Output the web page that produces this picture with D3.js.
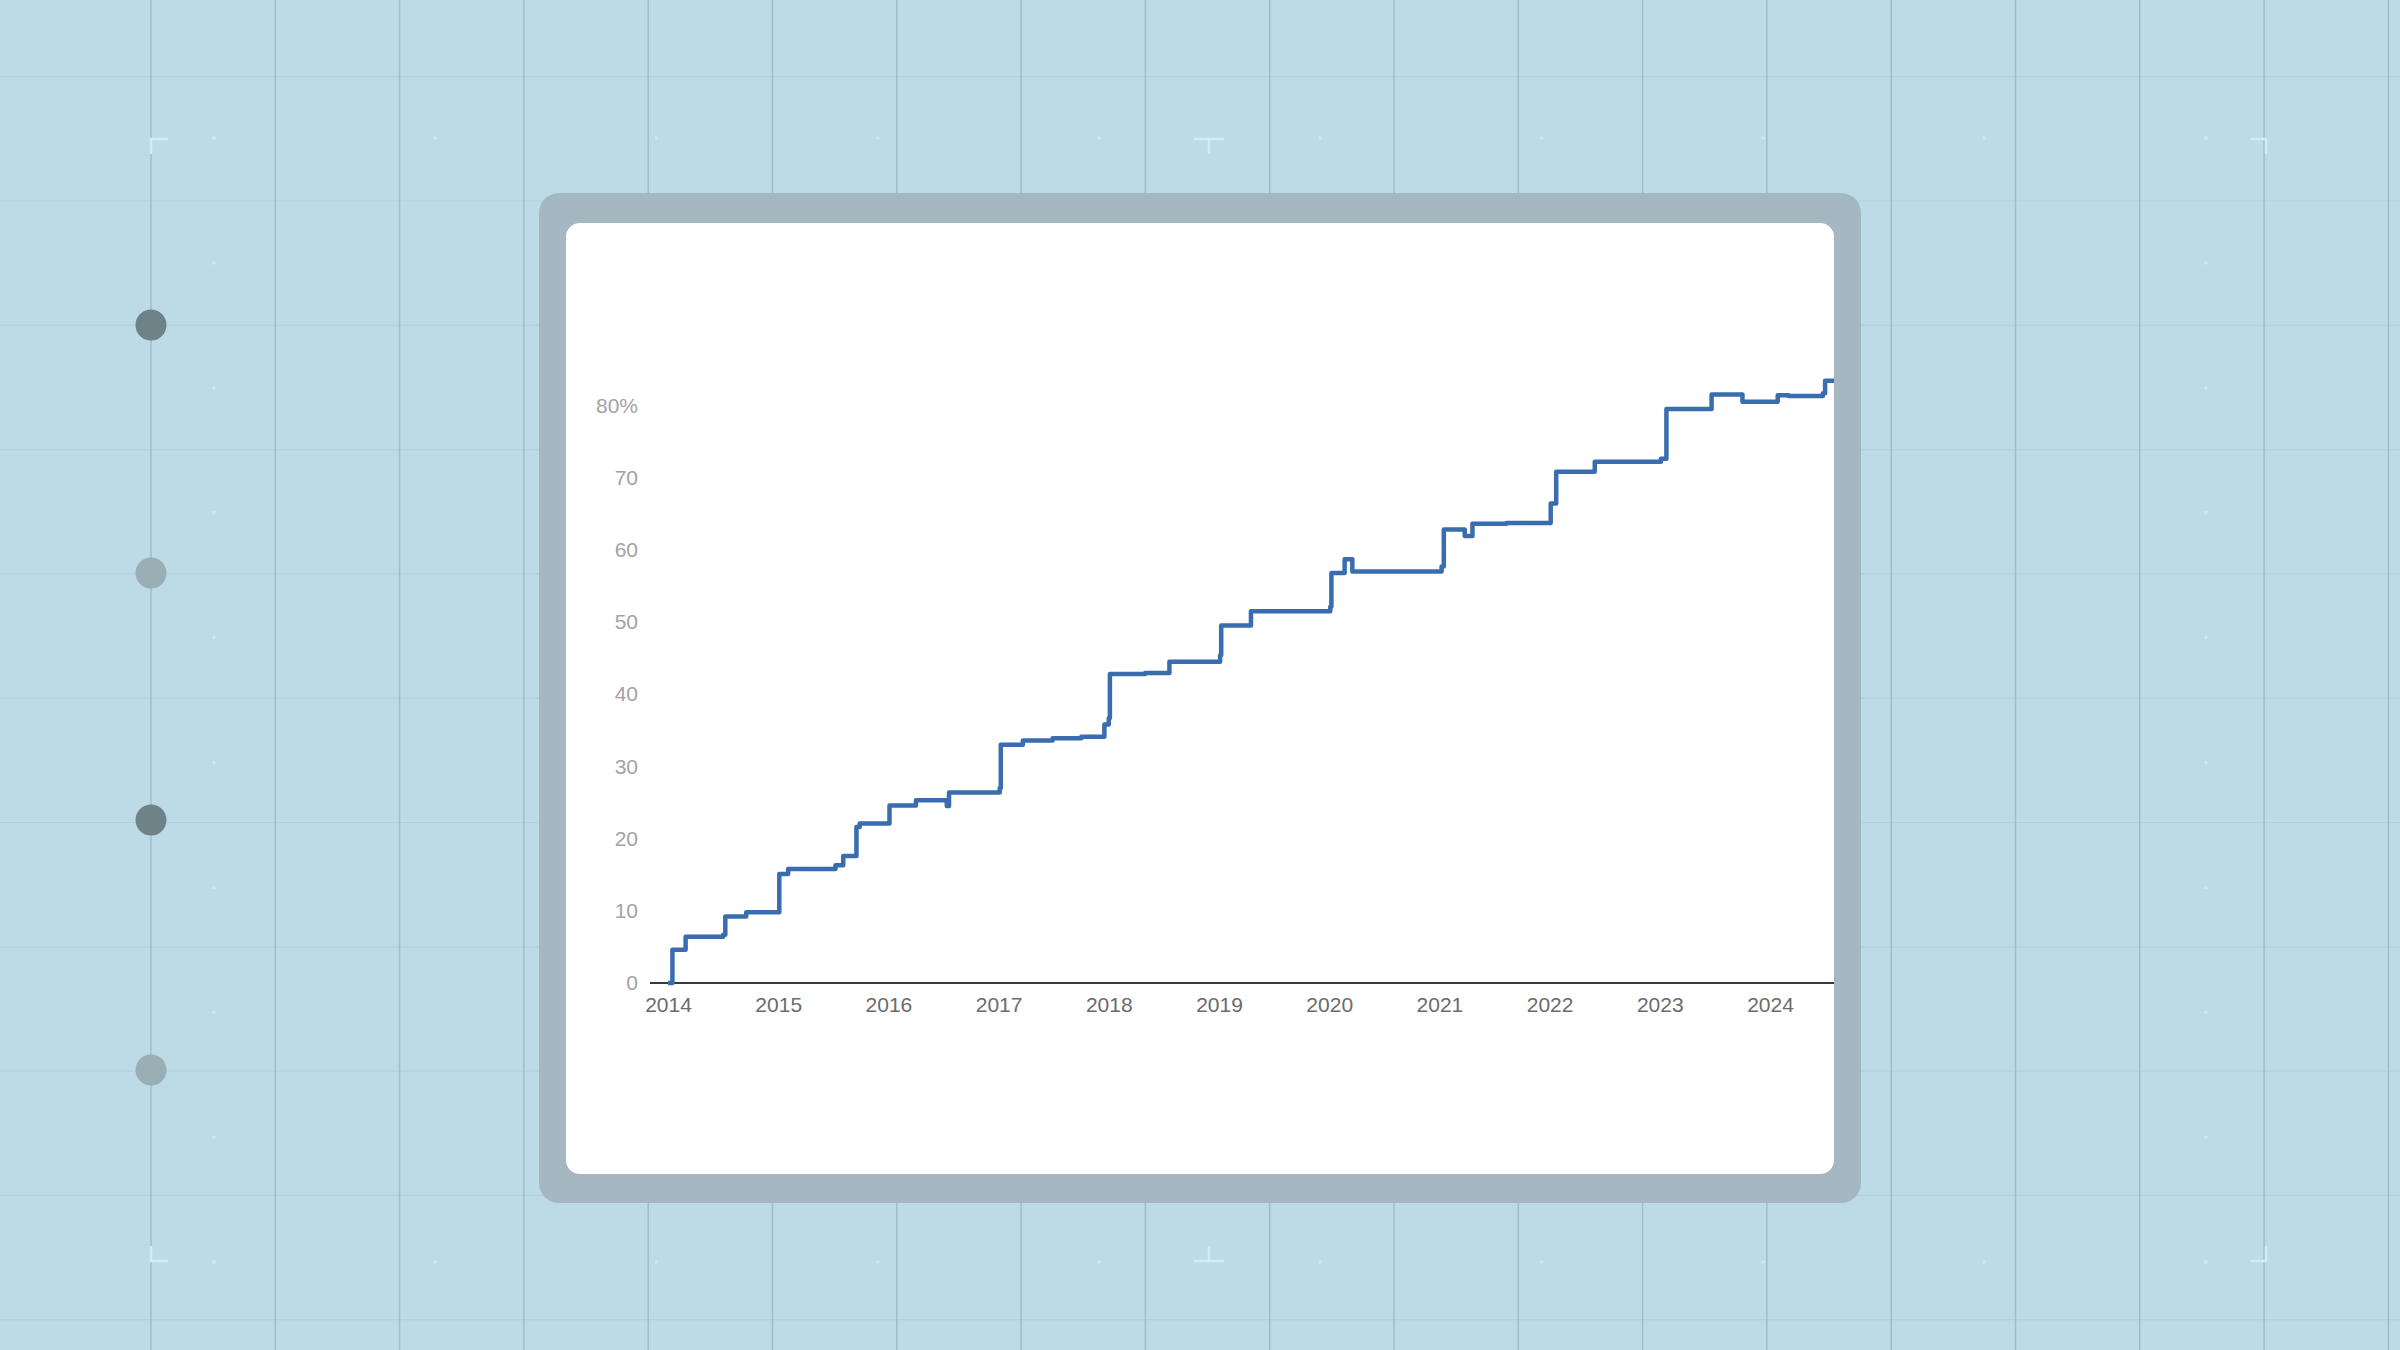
<!DOCTYPE html>
<html>
<head>
<meta charset="utf-8">
<script src="https://cdn.jsdelivr.net/npm/d3@7"></script>
<style>
  body { margin: 0; background: #bddbe6; }
  svg { display: block; }
  text { font-family: "Liberation Sans", Arial, sans-serif; }
</style>
</head>
<body>
<svg id="chart" width="2400" height="1350"></svg>
<script>
// step dates (decimal years) and share values (%)
const stepDates = [
  2014.00, 2014.04, 2014.16, 2014.50, 2014.52, 2014.71, 2015.01, 2015.09,
  2015.52, 2015.59, 2015.71, 2015.74, 2016.01, 2016.25, 2016.53, 2016.55,
  2017.01, 2017.02, 2017.22, 2017.49, 2017.75, 2017.96, 2018.00, 2018.01,
  2018.33, 2018.55, 2019.01, 2019.02, 2019.29, 2020.01, 2020.02, 2020.14,
  2020.21, 2021.02, 2021.04, 2021.23, 2021.30, 2021.61, 2022.01, 2022.06,
  2022.41, 2023.01, 2023.06, 2023.47, 2023.75, 2024.07, 2024.17, 2024.48,
  2024.50, 2024.62
];
const stepValues = [
  0, 4.6, 6.4, 6.7, 9.2, 9.8, 15.1, 15.8,
  16.3, 17.6, 21.6, 22.1, 24.6, 25.3, 24.5, 26.4,
  27.0, 33.0, 33.6, 33.9, 34.1, 35.8, 36.7, 42.8,
  42.95, 44.5, 45.4, 49.5, 51.5, 52.1, 56.8, 58.7,
  57.0, 57.7, 62.8, 61.9, 63.6, 63.7, 66.4, 70.8,
  72.2, 72.6, 79.5, 81.5, 80.5, 81.4, 81.3, 81.7,
  83.4, 83.4
];
const yearTicks = [2014, 2015, 2016, 2017, 2018, 2019, 2020, 2021, 2022, 2023, 2024];
const valueTicks = [0, 10, 20, 30, 40, 50, 60, 70, 80];

const svg = d3.select("#chart");

// background grid
const gridStep = 124.3;
const bg = svg.append("g");
d3.range(0, 11).forEach(k => {
  bg.append("line")
    .attr("x1", 0).attr("x2", 2400)
    .attr("y1", 76.7 + k * gridStep).attr("y2", 76.7 + k * gridStep)
    .attr("stroke", "#b3d0db").attr("stroke-width", 1.2);
});
d3.range(0, 19).forEach(k => {
  bg.append("line")
    .attr("x1", 151 + k * gridStep).attr("x2", 151 + k * gridStep)
    .attr("y1", 0).attr("y2", 1350)
    .attr("stroke", "#a0bdc7").attr("stroke-width", 1.5);
});

// faint dot border
const dotColor = "#d2e8f0";
d3.range(0, 10).forEach(k => {
  [138, 1262].forEach(yy => {
    bg.append("rect").attr("x", 214 + k * 221.3 - 1.5).attr("y", yy - 1.5)
      .attr("width", 3).attr("height", 3).attr("fill", dotColor);
  });
  [214, 2206].forEach(xx => {
    bg.append("rect").attr("x", xx - 1.5).attr("y", 138 + k * 124.9 - 1.5)
      .attr("width", 3).attr("height", 3).attr("fill", dotColor);
  });
});

// corner marks
const markColor = "#d4ebf3";
const marks = bg.append("g").attr("stroke", markColor).attr("stroke-width", 2.5).attr("fill", "none");
marks.append("path").attr("d", "M168,139 H151 V154");
marks.append("path").attr("d", "M2251,139 H2266 V154");
marks.append("path").attr("d", "M168,1261 H151 V1246");
marks.append("path").attr("d", "M2251,1261 H2266 V1246");
marks.append("path").attr("d", "M1194,139 H1224 M1209,139 V154");
marks.append("path").attr("d", "M1194,1261 H1224 M1209,1261 V1246");

// side dots
const sideDots = [[325, "#6f8288"], [573, "#9aaeb5"], [820, "#6f8288"], [1070, "#9aaeb5"]];
sideDots.forEach(([cy, c]) => {
  bg.append("circle").attr("cx", 151).attr("cy", cy).attr("r", 15.5).attr("fill", c);
});

// card
svg.append("rect")
  .attr("x", 539).attr("y", 193).attr("width", 1322).attr("height", 1010)
  .attr("rx", 20).attr("fill", "#a5b8c2");
svg.append("rect")
  .attr("x", 566).attr("y", 223).attr("width", 1268).attr("height", 951)
  .attr("rx", 14).attr("fill", "#ffffff");

svg.append("clipPath").attr("id", "plotClip")
  .append("rect").attr("x", 566).attr("y", 223).attr("width", 1268).attr("height", 951);

// scales
const x = d3.scaleLinear().domain([2014, 2024]).range([668, 1770]);
const y = d3.scaleLinear().domain([0, 80]).range([983, 405.4]);

// y axis labels
const yAxis = svg.append("g")
  .attr("transform", "translate(638,0)")
  .call(d3.axisLeft(y).tickValues(valueTicks).tickSize(0).tickPadding(0)
    .tickFormat(d => d === 80 ? "80%" : d));
yAxis.select(".domain").remove();
yAxis.selectAll("text")
  .attr("fill", "#a3a3a3").attr("font-size", 21)
  .attr("font-family", "'Liberation Sans', Arial, sans-serif");

// x axis labels
const xAxis = svg.append("g")
  .attr("transform", "translate(0,983)")
  .call(d3.axisBottom(x).tickValues(yearTicks).tickSize(0).tickPadding(14)
    .tickFormat(d3.format("d")));
xAxis.select(".domain").remove();
xAxis.selectAll("text")
  .attr("fill", "#6b6b6b").attr("font-size", 21)
  .attr("font-family", "'Liberation Sans', Arial, sans-serif");

// baseline
svg.append("line")
  .attr("x1", 650).attr("x2", 1834)
  .attr("y1", y(0)).attr("y2", y(0))
  .attr("stroke", "#3a3a3a").attr("stroke-width", 2);

// step line
const pts = stepDates.map((d, i) => [d, stepValues[i]]);
const line = d3.line()
  .x(d => x(d[0]))
  .y(d => y(d[1]))
  .curve(d3.curveStepAfter);

svg.append("path")
  .datum(pts)
  .attr("clip-path", "url(#plotClip)")
  .attr("fill", "none")
  .attr("stroke", "#3a6db0")
  .attr("stroke-width", 4.5)
  .attr("stroke-linejoin", "round")
  .attr("d", line);
</script>
</body>
</html>
